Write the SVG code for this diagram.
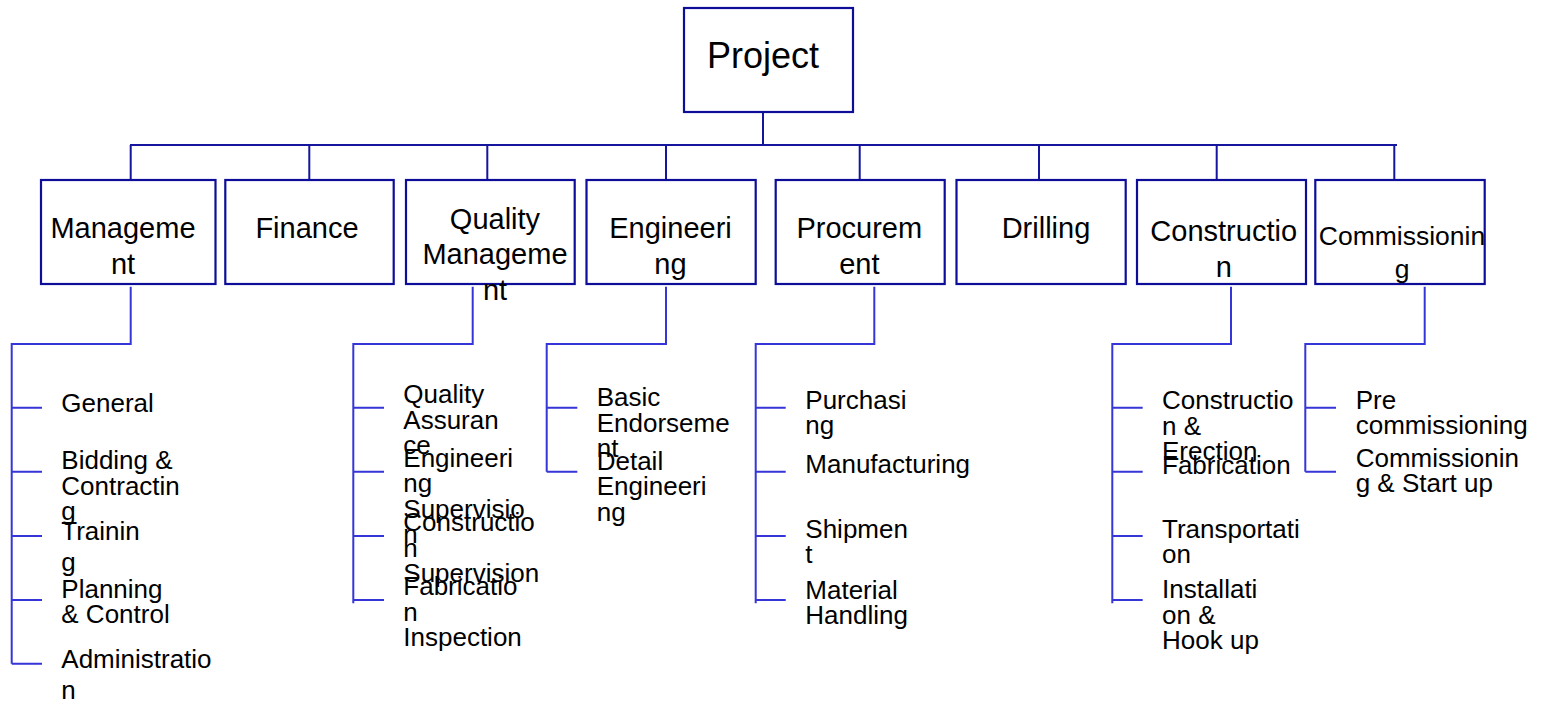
<svg xmlns="http://www.w3.org/2000/svg" width="1547" height="704" viewBox="0 0 1547 704">
<style>
  .box { fill: #ffffff; stroke: #0d0d9a; stroke-width: 2.2; }
  .top { fill: none; stroke: #15159e; stroke-width: 2; }
  .sub { fill: none; stroke: #3535d8; stroke-width: 2; }
  text { font-family: "Liberation Sans", Arial, sans-serif; fill: #000000; }
  .t0 { font-size: 36px; text-anchor: middle; }
  .t1 { font-size: 29px; text-anchor: middle; }
  .t1s { font-size: 26.5px; text-anchor: middle; }
  .t2 { font-size: 26px; }
</style>
<rect width="1547" height="704" fill="#ffffff"/>

<g id="connectors">
  <path class="top" d="M763,112 V145 M130,145 H1397 M130.7,145 V180 M309.3,145 V180 M487.3,145 V180 M666,145 V180 M859.7,145 V180 M1039,145 V180 M1216.7,145 V180 M1394.3,145 V183.5"/>
  <path class="sub" d="M130.7,286.7 V344 H11.7 V663.7 M11.7,407.7 H42 M11.7,471.7 H42 M11.7,536 H42 M11.7,600 H42 M11.7,663.7 H42"/>
  <path class="sub" d="M472.7,286.7 V344 H353.3 V603.3 M353.3,407.7 H384 M353.3,471.7 H384 M353.3,536 H384 M353.3,600 H384"/>
  <path class="sub" d="M666,286.7 V344 H546.7 V471.7 M546.7,407.7 H577.3 M546.7,471.7 H577.3"/>
  <path class="sub" d="M874.3,286.7 V344 H755.7 V603.3 M755.7,407.7 H785.7 M755.7,471.7 H785.7 M755.7,536 H785.7 M755.7,600 H785.7"/>
  <path class="sub" d="M1231,286.7 V344 H1112.3 V603.3 M1112.3,407.7 H1142.7 M1112.3,471.7 H1142.7 M1112.3,536 H1142.7 M1112.3,600 H1142.7"/>
  <path class="sub" d="M1424.7,286.7 V344 H1305.3 V471.7 M1305.3,407.7 H1336 M1305.3,471.7 H1336"/>
</g>

<g id="project">
  <rect class="box" x="684" y="8" width="169" height="104"/>
  <text class="t0" x="763" y="68">Project</text>
</g>

<g id="management">
  <rect class="box" x="41" y="180" width="174.5" height="104"/>
  <text class="t1" x="123" y="238.3">Manageme</text>
  <text class="t1" x="123" y="274">nt</text>
</g>
<g id="finance">
  <rect class="box" x="225.3" y="180" width="168.4" height="104"/>
  <text class="t1" x="307" y="238.3">Finance</text>
</g>
<g id="quality-management">
  <rect class="box" x="406" y="180" width="168.7" height="104"/>
  <text class="t1" x="495" y="228.5">Quality</text>
  <text class="t1" x="495" y="264">Manageme</text>
  <text class="t1" x="495" y="299.5">nt</text>
</g>
<g id="engineering">
  <rect class="box" x="586.5" y="180" width="169.2" height="104"/>
  <text class="t1" x="670.5" y="238.3">Engineeri</text>
  <text class="t1" x="670.5" y="274">ng</text>
</g>
<g id="procurement">
  <rect class="box" x="775.7" y="180" width="169" height="104"/>
  <text class="t1" x="859.3" y="238.3">Procurem</text>
  <text class="t1" x="859.3" y="274">ent</text>
</g>
<g id="drilling">
  <rect class="box" x="956.5" y="180" width="169.2" height="104"/>
  <text class="t1" x="1046" y="238.3">Drilling</text>
</g>
<g id="construction">
  <rect class="box" x="1137" y="180" width="169" height="104"/>
  <text class="t1" x="1223.7" y="241">Constructio</text>
  <text class="t1" x="1223.7" y="276.7">n</text>
</g>
<g id="commissioning">
  <rect class="box" x="1315.3" y="180" width="169.4" height="104"/>
  <text class="t1s" x="1402" y="245">Commissionin</text>
  <text class="t1s" x="1402" y="278">g</text>
</g>

<g id="management-items">
  <text class="t2" x="61.3" y="411.7">General</text>
  <text class="t2" x="61.3" y="469">Bidding &amp;</text>
  <text class="t2" x="61.3" y="494.7">Contractin</text>
  <text class="t2" x="61.3" y="520.4">g</text>
  <text class="t2" x="61.3" y="540">Trainin</text>
  <text class="t2" x="61.3" y="570.5">g</text>
  <text class="t2" x="61.3" y="598.3">Planning</text>
  <text class="t2" x="61.3" y="623.3">&amp; Control</text>
  <text class="t2" x="61.3" y="668">Administratio</text>
  <text class="t2" x="61.3" y="699">n</text>
</g>

<g id="quality-items">
  <text class="t2" x="403.3" y="403.3">Quality</text>
  <text class="t2" x="403.3" y="428.8">Assuran</text>
  <text class="t2" x="403.3" y="454.3">ce</text>
  <text class="t2" x="403.3" y="466.7">Engineeri</text>
  <text class="t2" x="403.3" y="492.2">ng</text>
  <text class="t2" x="403.3" y="517.7">Supervisio</text>
  <text class="t2" x="403.3" y="543.2">n</text>
  <text class="t2" x="403.3" y="531">Constructio</text>
  <text class="t2" x="403.3" y="556.5">n</text>
  <text class="t2" x="403.3" y="582">Supervision</text>
  <text class="t2" x="403.3" y="595">Fabricatio</text>
  <text class="t2" x="403.3" y="620.5">n</text>
  <text class="t2" x="403.3" y="646">Inspection</text>
</g>

<g id="engineering-items">
  <text class="t2" x="596.7" y="406">Basic</text>
  <text class="t2" x="596.7" y="431.5">Endorseme</text>
  <text class="t2" x="596.7" y="457">nt</text>
  <text class="t2" x="596.7" y="469.5">Detail</text>
  <text class="t2" x="596.7" y="495">Engineeri</text>
  <text class="t2" x="596.7" y="520.5">ng</text>
</g>

<g id="procurement-items">
  <text class="t2" x="805.3" y="409">Purchasi</text>
  <text class="t2" x="805.3" y="434.3">ng</text>
  <text class="t2" x="805.3" y="473.3">Manufacturing</text>
  <text class="t2" x="805.3" y="538.3">Shipmen</text>
  <text class="t2" x="805.3" y="563">t</text>
  <text class="t2" x="805.3" y="599">Material</text>
  <text class="t2" x="805.3" y="624">Handling</text>
</g>

<g id="construction-items">
  <text class="t2" x="1162" y="409.3">Constructio</text>
  <text class="t2" x="1162" y="434.6">n &amp;</text>
  <text class="t2" x="1162" y="460">Erection</text>
  <text class="t2" x="1162" y="474">Fabrication</text>
  <text class="t2" x="1162" y="538.3">Transportati</text>
  <text class="t2" x="1162" y="563">on</text>
  <text class="t2" x="1162" y="598.3">Installati</text>
  <text class="t2" x="1162" y="623.6">on &amp;</text>
  <text class="t2" x="1162" y="649">Hook up</text>
</g>

<g id="commissioning-items">
  <text class="t2" x="1355.7" y="408.5">Pre</text>
  <text class="t2" x="1355.7" y="434.3">commissioning</text>
  <text class="t2" x="1355.7" y="466.7">Commissionin</text>
  <text class="t2" x="1355.7" y="492.2">g &amp; Start up</text>
</g>
</svg>
